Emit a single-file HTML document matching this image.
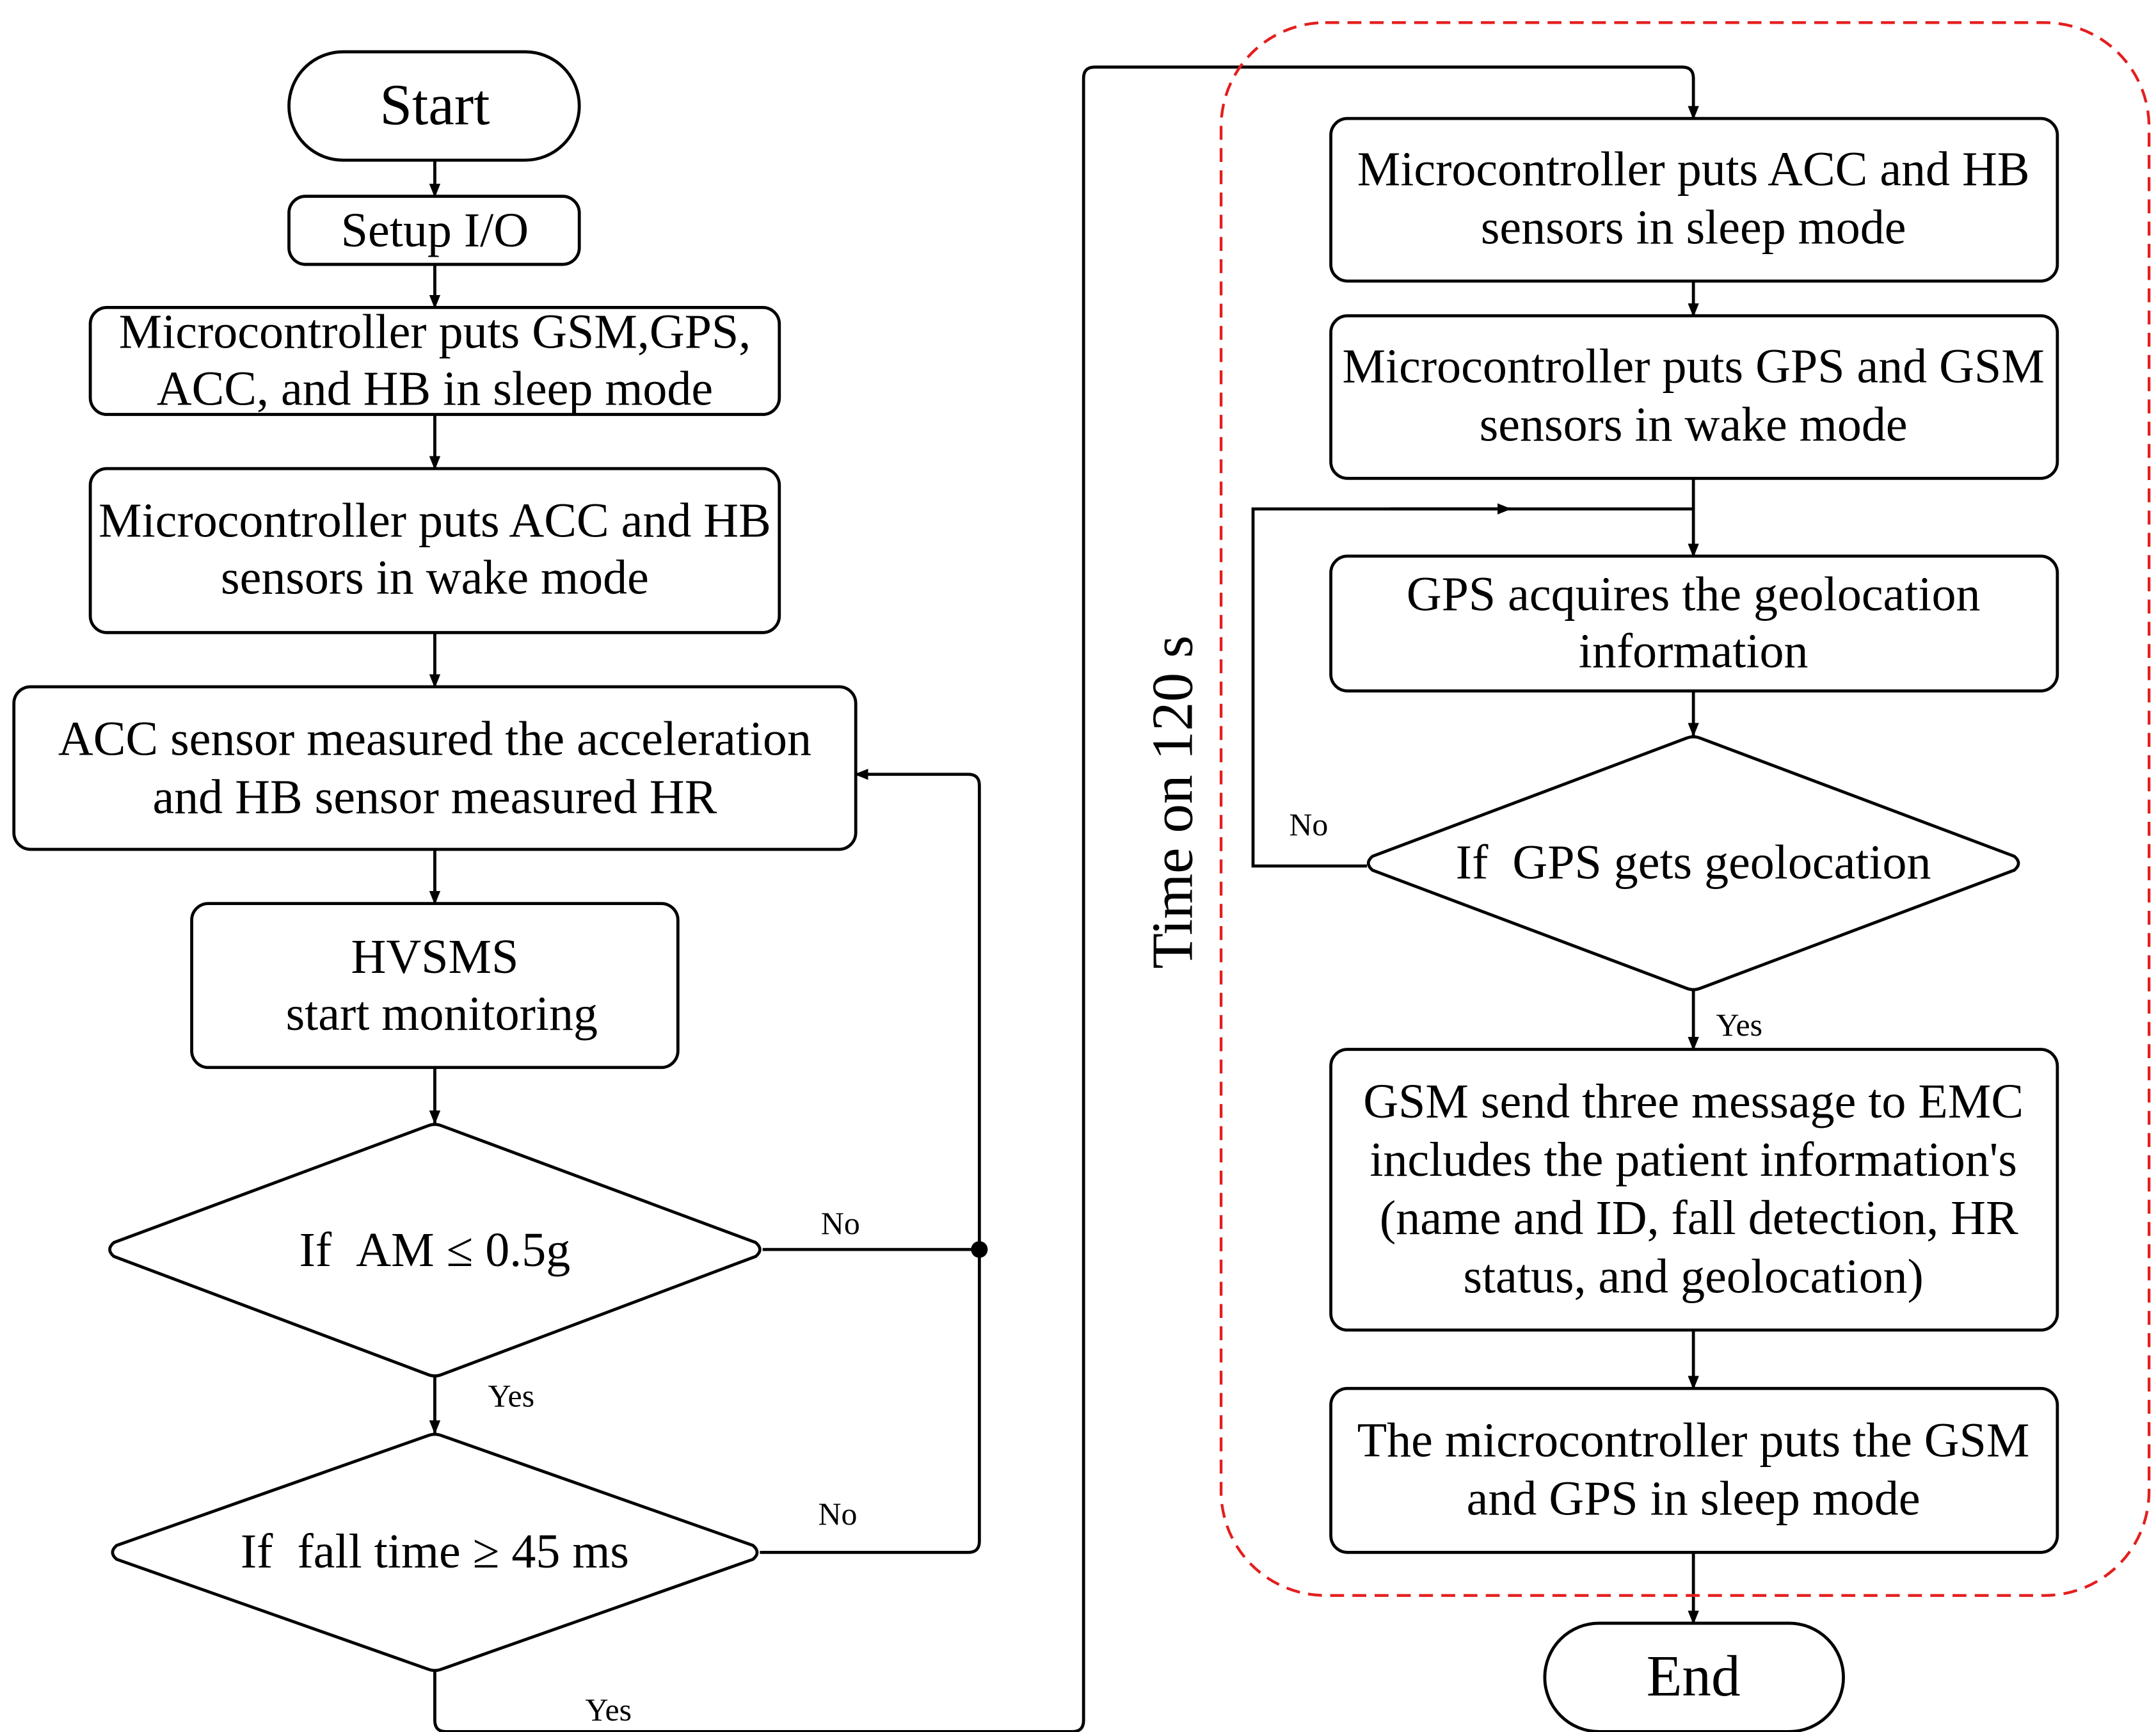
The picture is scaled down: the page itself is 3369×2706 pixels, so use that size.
<!DOCTYPE html>
<html><head><meta charset="utf-8"><style>
html,body{margin:0;padding:0;background:#fff;}
svg{display:block;}
text{font-family:"Liberation Serif",serif;fill:#000;}
</style></head><body>
<svg width="3369" height="2706" viewBox="0 0 1552 1246" xmlns="http://www.w3.org/2000/svg">
<defs>
<marker id="a" markerWidth="10" markerHeight="10" refX="9" refY="5" orient="auto" markerUnits="userSpaceOnUse">
<path d="M0,1 L10,5 L0,9 Z" fill="#000"/></marker>
</defs>
<rect width="1552" height="1246" fill="#fff"/>
<g fill="none" stroke="#000" stroke-width="2.2">
<rect x="208" y="37" width="209" height="78" rx="39"/>
<rect x="208" y="141" width="209" height="49" rx="12"/>
<rect x="65" y="221" width="496" height="77" rx="12"/>
<rect x="65" y="337" width="496" height="118" rx="12"/>
<rect x="10" y="494" width="606" height="117" rx="12"/>
<rect x="138" y="650" width="350" height="118" rx="12"/>
<path d="M82,904 Q76,899 82,894 L308,810 Q313,808 318,810 L544,894 Q550,899 544,904 L318,989 Q313,991 308,989 Z"/>
<path d="M84,1122 Q78,1117 84,1112 L308,1033 Q313,1031 318,1033 L542,1112 Q548,1117 542,1122 L318,1201 Q313,1203 308,1201 Z"/>
<rect x="958" y="85" width="523" height="117" rx="12"/>
<rect x="958" y="227" width="523" height="117" rx="12"/>
<rect x="958" y="400" width="523" height="97" rx="12"/>
<path d="M988,626 Q982,621 988,616 L1214,531 Q1219,529 1224,531 L1450,616 Q1456,621 1450,626 L1224,711 Q1219,713 1214,711 Z"/>
<rect x="958" y="755" width="523" height="202" rx="12"/>
<rect x="958" y="999" width="523" height="118" rx="12"/>
<rect x="1112" y="1168" width="215" height="78" rx="39"/>
<line x1="313" y1="115" x2="313" y2="141" marker-end="url(#a)"/>
<line x1="313" y1="190" x2="313" y2="221" marker-end="url(#a)"/>
<line x1="313" y1="298" x2="313" y2="337" marker-end="url(#a)"/>
<line x1="313" y1="455" x2="313" y2="494" marker-end="url(#a)"/>
<line x1="313" y1="611" x2="313" y2="650" marker-end="url(#a)"/>
<line x1="313" y1="768" x2="313" y2="808" marker-end="url(#a)"/>
<line x1="313" y1="991" x2="313" y2="1031" marker-end="url(#a)"/>
<line x1="549" y1="899" x2="705" y2="899"/>
<path d="M547,1117 L697,1117 Q705,1117 705,1109 L705,565 Q705,557 697,557 L616,557" marker-end="url(#a)"/>
<path d="M313,1203 L313,1238 Q313,1246 321,1246 L772,1246 Q780,1246 780,1238 L780,56 Q780,48 788,48 L1211,48 Q1219,48 1219,56 L1219,85" marker-end="url(#a)"/>
<line x1="1219" y1="202" x2="1219" y2="227" marker-end="url(#a)"/>
<line x1="1219" y1="344" x2="1219" y2="400" marker-end="url(#a)"/>
<line x1="1219" y1="497" x2="1219" y2="529" marker-end="url(#a)"/>
<line x1="1219" y1="713" x2="1219" y2="755" marker-end="url(#a)"/>
<line x1="1219" y1="957" x2="1219" y2="999" marker-end="url(#a)"/>
<line x1="1219" y1="1117" x2="1219" y2="1168" marker-end="url(#a)"/>
<path d="M984,623 L902,623 L902,366 L1219,366"/>
<line x1="1000" y1="366" x2="1087" y2="366" marker-end="url(#a)"/>
</g>
<circle cx="705" cy="899" r="6" fill="#000"/>
<rect x="879" y="16" width="668" height="1132" rx="75" fill="none" stroke="#e41e1e" stroke-width="2" stroke-dasharray="10,6"/>
<g font-size="35" text-anchor="middle">
<text x="313" y="89" font-size="42">Start</text>
<text x="313" y="177">Setup I/O</text>
<text x="313" y="250">Microcontroller puts GSM,GPS,</text>
<text x="313" y="291">ACC, and HB in sleep mode</text>
<text x="313" y="386">Microcontroller puts ACC and HB</text>
<text x="313" y="427">sensors in wake mode</text>
<text x="313" y="543">ACC sensor measured the acceleration</text>
<text x="313" y="585">and HB sensor measured HR</text>
<text x="313" y="700">HVSMS</text>
<text x="318" y="741">start monitoring</text>
<text x="313" y="911">If&#160;&#160;AM ≤ 0.5g</text>
<text x="313" y="1128">If&#160;&#160;fall time ≥ 45 ms</text>
<text x="1219" y="133">Microcontroller puts ACC and HB</text>
<text x="1219" y="175">sensors in sleep mode</text>
<text x="1219" y="275">Microcontroller puts GPS and GSM</text>
<text x="1219" y="317">sensors in wake mode</text>
<text x="1219" y="439">GPS acquires the geolocation</text>
<text x="1219" y="480">information</text>
<text x="1219" y="632">If&#160;&#160;GPS gets geolocation</text>
<text x="1219" y="804">GSM send three message to EMC</text>
<text x="1219" y="846">includes the patient information's</text>
<text x="1223" y="888">(name and ID, fall detection, HR</text>
<text x="1219" y="930">status, and geolocation)</text>
<text x="1219" y="1048">The microcontroller puts the GSM</text>
<text x="1219" y="1090">and GPS in sleep mode</text>
<text x="1219" y="1220" font-size="42">End</text>
</g>
<g font-size="23" text-anchor="middle">
<text x="605" y="888">No</text>
<text x="603" y="1097">No</text>
<text x="368" y="1012">Yes</text>
<text x="438" y="1238">Yes</text>
<text x="942" y="601">No</text>
<text x="1252" y="745">Yes</text>
</g>
<text x="858" y="577" font-size="42" text-anchor="middle" transform="rotate(-90 858 577)">Time on 120 s</text>
</svg>
</body></html>
